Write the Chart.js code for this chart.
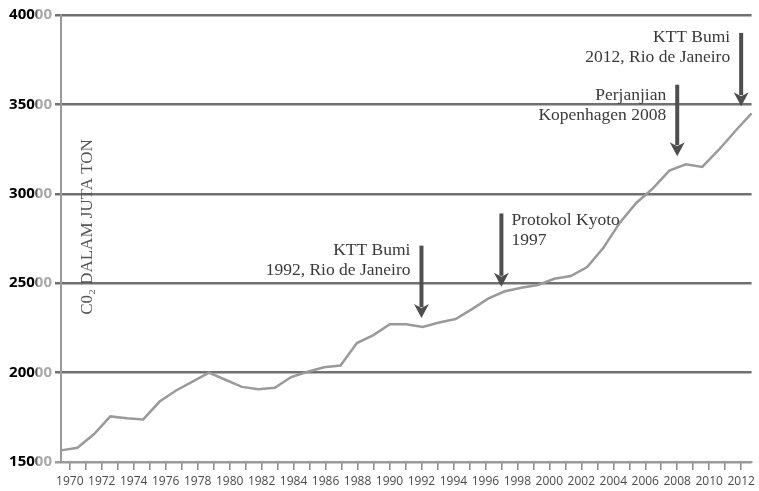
<!DOCTYPE html>
<html>
<head>
<meta charset="utf-8">
<script src="https://cdn.jsdelivr.net/npm/chart.js@4"></script>
<style>
  html, body { margin: 0; padding: 0; background: #fff; }
  #wrap { width: 759px; height: 491px; }
</style>
</head>
<body>
<div id="wrap"><canvas id="c" width="759" height="491"></canvas></div>
<script>
// ---- data ----
const years = [1970,1971,1972,1973,1974,1975,1976,1977,1978,1979,
               1980,1981,1982,1983,1984,1985,1986,1987,1988,1989,
               1990,1991,1992,1993,1994,1995,1996,1997,1998,1999,
               2000,2001,2002,2003,2004,2005,2006,2007,2008,2009,
               2010,2011,2012];
const co2 = [15650,15800,16550,17550,17450,17380,18380,19000,19490,20000,
             19600,19200,19070,19150,19750,20050,20300,20400,21650,22100,
             22700,22700,22550,22800,23000,23550,24150,24550,24750,24900,
             25250,25400,25900,27000,28400,29500,30300,31300,31650,31500,
             32450,33500,34500];
const tickYears = [];
for (let y = 1970; y <= 2012; y++) tickYears.push(y);
const yTicks = [15000,20000,25000,30000,35000,40000];
const yAxisTitle = 'C0\u2082 DALAM JUTA TON';

// annotations (events)
const eventYears = [1992, 1997, 2008, 2012];
const eventTop   = [27100, 28900, 36100, 39000];
const eventTip   = [23050, 24800, 32100, 34900];
const eventText  = [
  ['KTT Bumi', '1992, Rio de Janeiro'],
  ['Protokol Kyoto', '1997'],
  ['Perjanjian', 'Kopenhagen 2008'],
  ['KTT Bumi', '2012, Rio de Janeiro']
];
const eventSide = ['left', 'right', 'left', 'left'];

const serif = '"Liberation Serif", "DejaVu Serif", serif';

function drawArrow(ctx, x, yTop, yTip) {
  const headH = 14, headW = 7.5;
  ctx.save();
  ctx.strokeStyle = '#4e4e4e';
  ctx.fillStyle = '#4e4e4e';
  ctx.lineWidth = 4;
  ctx.beginPath();
  ctx.moveTo(x, yTop);
  ctx.lineTo(x, yTip - headH + 3);
  ctx.stroke();
  ctx.beginPath();
  ctx.moveTo(x, yTip);
  ctx.lineTo(x - headW, yTip - headH);
  ctx.lineTo(x, yTip - headH + 4);
  ctx.lineTo(x + headW, yTip - headH);
  ctx.closePath();
  ctx.fill();
  ctx.restore();
}

const annotPlugin = {
  id: 'annot',
  afterDatasetsDraw(chart) {
    const ctx = chart.ctx;
    const xs = chart.scales.xTicks;
    const ys = chart.scales.y;
    ctx.save();
    ctx.translate(88, 227);
    ctx.rotate(-Math.PI / 2);
    ctx.font = '17px ' + serif;
    ctx.fillStyle = '#555';
    ctx.textAlign = 'center';
    ctx.textBaseline = 'middle';
    ctx.fillText(yAxisTitle, 0, 0);
    ctx.restore();

    eventYears.forEach((yr, i) => {
      const x = xs.getPixelForValue(yr);
      const yTop = ys.getPixelForValue(eventTop[i]);
      const yTip = ys.getPixelForValue(eventTip[i]);
      drawArrow(ctx, x, yTop, yTip);
      ctx.save();
      ctx.font = '17.5px ' + serif;
      ctx.fillStyle = '#3a3a3a';
      ctx.textBaseline = 'middle';
      let tx;
      if (eventSide[i] === 'left') { ctx.textAlign = 'right'; tx = x - 11; }
      else { ctx.textAlign = 'left'; tx = x + 10; }
      const lead = (i === 2) ? 11 : (i === 1 ? 7 : 5);
      eventText[i].forEach((line, j) => {
        ctx.fillText(line, tx, yTop + lead + j * 20);
      });
      ctx.restore();
    });
  }
};

let yGrad = null;
function yTickColor(c) {
  if (!yGrad) {
    // gradient in label-local coordinates (anchor = right edge of label)
    const g = c.chart.ctx.createLinearGradient(-30, 0, 0, 0);
    g.addColorStop(0, '#000');
    g.addColorStop(12.5 / 30, '#000');
    g.addColorStop(16 / 30, '#a8a8a8');
    g.addColorStop(1, '#a8a8a8');
    yGrad = g;
  }
  return yGrad;
}

new Chart(document.getElementById('c'), {
  type: 'line',
  data: {
    labels: years,
    datasets: [{
      data: co2,
      borderColor: '#9a9a9a',
      borderWidth: 2.5,
      pointRadius: 0,
      tension: 0,
      fill: false,
      xAxisID: 'x',
      yAxisID: 'y'
    }]
  },
  options: {
    responsive: false,
    animation: false,
    devicePixelRatio: 1,
    layout: { padding: { top: 15, right: 7, left: 0, bottom: 0 } },
    plugins: { legend: { display: false }, tooltip: { enabled: false } },
    scales: {
      x: {
        type: 'category',
        display: false,
        offset: false
      },
      xTicks: {
        type: 'linear',
        position: 'bottom',
        min: 1969.45,
        max: 2012.65,
        afterBuildTicks: (s) => { s.ticks = tickYears.map(v => ({ value: v })); },
        afterFit: (s) => { s.height = 29; },
        grid: { drawOnChartArea: false, drawTicks: true, tickLength: 8, color: '#8a8a8a', lineWidth: 1.5 },
        border: { display: true, color: '#9a9a9a', width: 2 },
        ticks: {
          autoSkip: false,
          maxRotation: 0,
          padding: 4,
          color: '#4a4a4a',
          font: { family: '"Open Sans", sans-serif', size: 12 },
          callback: (v) => (v % 2 === 0 ? String(v) : '')
        }
      },
      y: {
        type: 'linear',
        min: 15000,
        max: 40000,
        afterBuildTicks: (s) => { s.ticks = yTicks.map(v => ({ value: v })); },
        afterFit: (s) => { s.width = 61; },
        grid: {
          drawTicks: true,
          tickLength: 6,
          lineWidth: 2.5,
          color: (c) => (c.tick && c.tick.value === 15000 ? '#9a9a9a' : '#707070')
        },
        border: { display: true, color: '#9a9a9a', width: 2 },
        ticks: {
          padding: 3,
          color: yTickColor,
          font: { family: '"Open Sans", sans-serif', size: 15, weight: 'bold' },
          callback: (v) => String(v)
        }
      }
    }
  },
  plugins: [annotPlugin]
});
</script>
</body>
</html>
